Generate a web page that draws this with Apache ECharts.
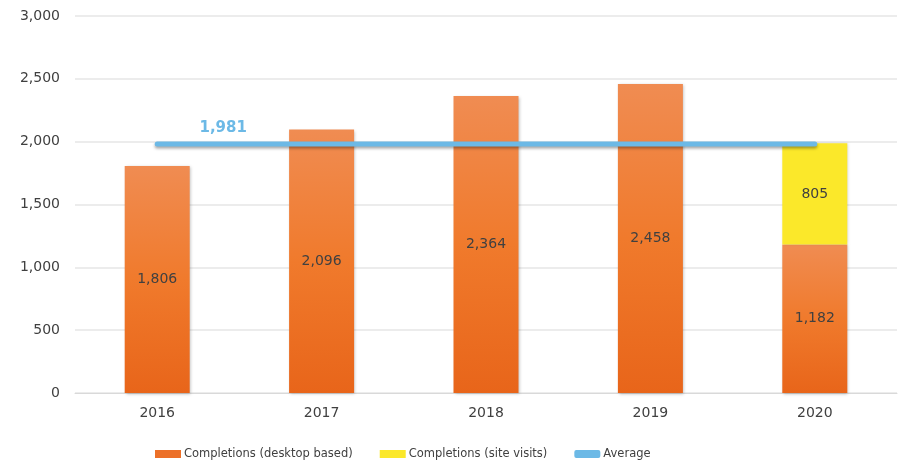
<!DOCTYPE html>
<html><head><meta charset="utf-8">
<script src="https://cdn.jsdelivr.net/npm/echarts@6/dist/echarts.min.js"></script>
<style>html,body{margin:0;padding:0;background:#fff}#c{width:907px;height:461px}</style>
</head><body><div id="c"></div>
<script>
var categories = ['2016','2017','2018','2019','2020'];
var desktopValues = [1806, 2096, 2364, 2458, 1182];
var siteVisitValues = [null, null, null, null, 805];
var averageValues = [1981, 1981, 1981, 1981, 1981];
var yTicks = [0, 500, 1000, 1500, 2000, 2500, 3000];

var FF = 'Verdana, "DejaVu Sans", sans-serif';
var chart = echarts.init(document.getElementById('c'));
var fmt = function (v) { return v.toLocaleString('en-US'); };
chart.setOption({
  animation: false,
  textStyle: { fontFamily: FF },
  grid: { left: 75, right: 10, top: 16, bottom: 68 },
  legend: {
    top: 443, left: 150, itemGap: 27, itemWidth: 26, itemHeight: 8,
    textStyle: { color: '#404040', fontSize: 11.5, fontFamily: FF, padding: [0, 0, 0, -2] },
    data: [
      { name: 'Completions (desktop based)', icon: 'rect', itemStyle: { color: '#ec7028' } },
      { name: 'Completions (site visits)', icon: 'rect', itemStyle: { color: '#fbe82a' } },
      { name: 'Average', icon: 'roundRect' }
    ]
  },
  xAxis: {
    type: 'category', data: categories,
    axisLine: { lineStyle: { color: '#d9d9d9', width: 1 } },
    axisTick: { show: false },
    axisLabel: { color: '#404040', fontSize: 14, margin: 13, fontFamily: FF }
  },
  yAxis: {
    type: 'value', min: yTicks[0], max: yTicks[yTicks.length - 1], interval: 500,
    axisLine: { show: false }, axisTick: { show: false },
    splitLine: { lineStyle: { color: '#e6e6e6', width: 1.5 } },
    axisLabel: { color: '#404040', fontSize: 14, margin: 15, fontFamily: FF, formatter: fmt }
  },
  series: [
    {
      name: 'Completions (desktop based)', type: 'bar', stack: 'c', barWidth: 65,
      data: desktopValues,
      itemStyle: {
        color: new echarts.graphic.LinearGradient(0, 0, 0, 1, [
          { offset: 0, color: '#f08c52' }, { offset: 0.5, color: '#f07a2c' }, { offset: 1, color: '#e8651a' }
        ]),
        shadowColor: 'rgba(0,0,0,0.25)', shadowBlur: 3, shadowOffsetX: 1, shadowOffsetY: 1
      },
      label: { show: true, position: 'inside', color: '#404040', fontSize: 14, fontFamily: FF, formatter: function (p) { return fmt(p.value); } }
    },
    {
      name: 'Completions (site visits)', type: 'bar', stack: 'c', barWidth: 65,
      data: siteVisitValues,
      itemStyle: { color: '#fbe82a', shadowColor: 'rgba(0,0,0,0.2)', shadowBlur: 3, shadowOffsetX: 1, shadowOffsetY: 0 },
      label: { show: true, position: 'inside', color: '#404040', fontSize: 14, fontFamily: FF, formatter: function (p) { return p.value == null ? '' : fmt(p.value); } }
    },
    {
      name: 'Average', type: 'line', data: averageValues, symbol: 'circle', symbolSize: 0, showSymbol: true, z: 5,
      lineStyle: { color: '#6cb9e6', width: 5, cap: 'round', shadowColor: 'rgba(0,0,0,0.35)', shadowBlur: 3, shadowOffsetY: 2 },
      itemStyle: { color: '#6cb9e6' },
      label: {
        show: true, position: 'top', offset: [66, -3], color: '#6cb9e6', fontSize: 15, fontWeight: 'bold', fontFamily: FF,
        formatter: function (p) { return p.dataIndex === 0 ? fmt(p.value) : ''; }
      }
    }
  ]
});
</script></body></html>
